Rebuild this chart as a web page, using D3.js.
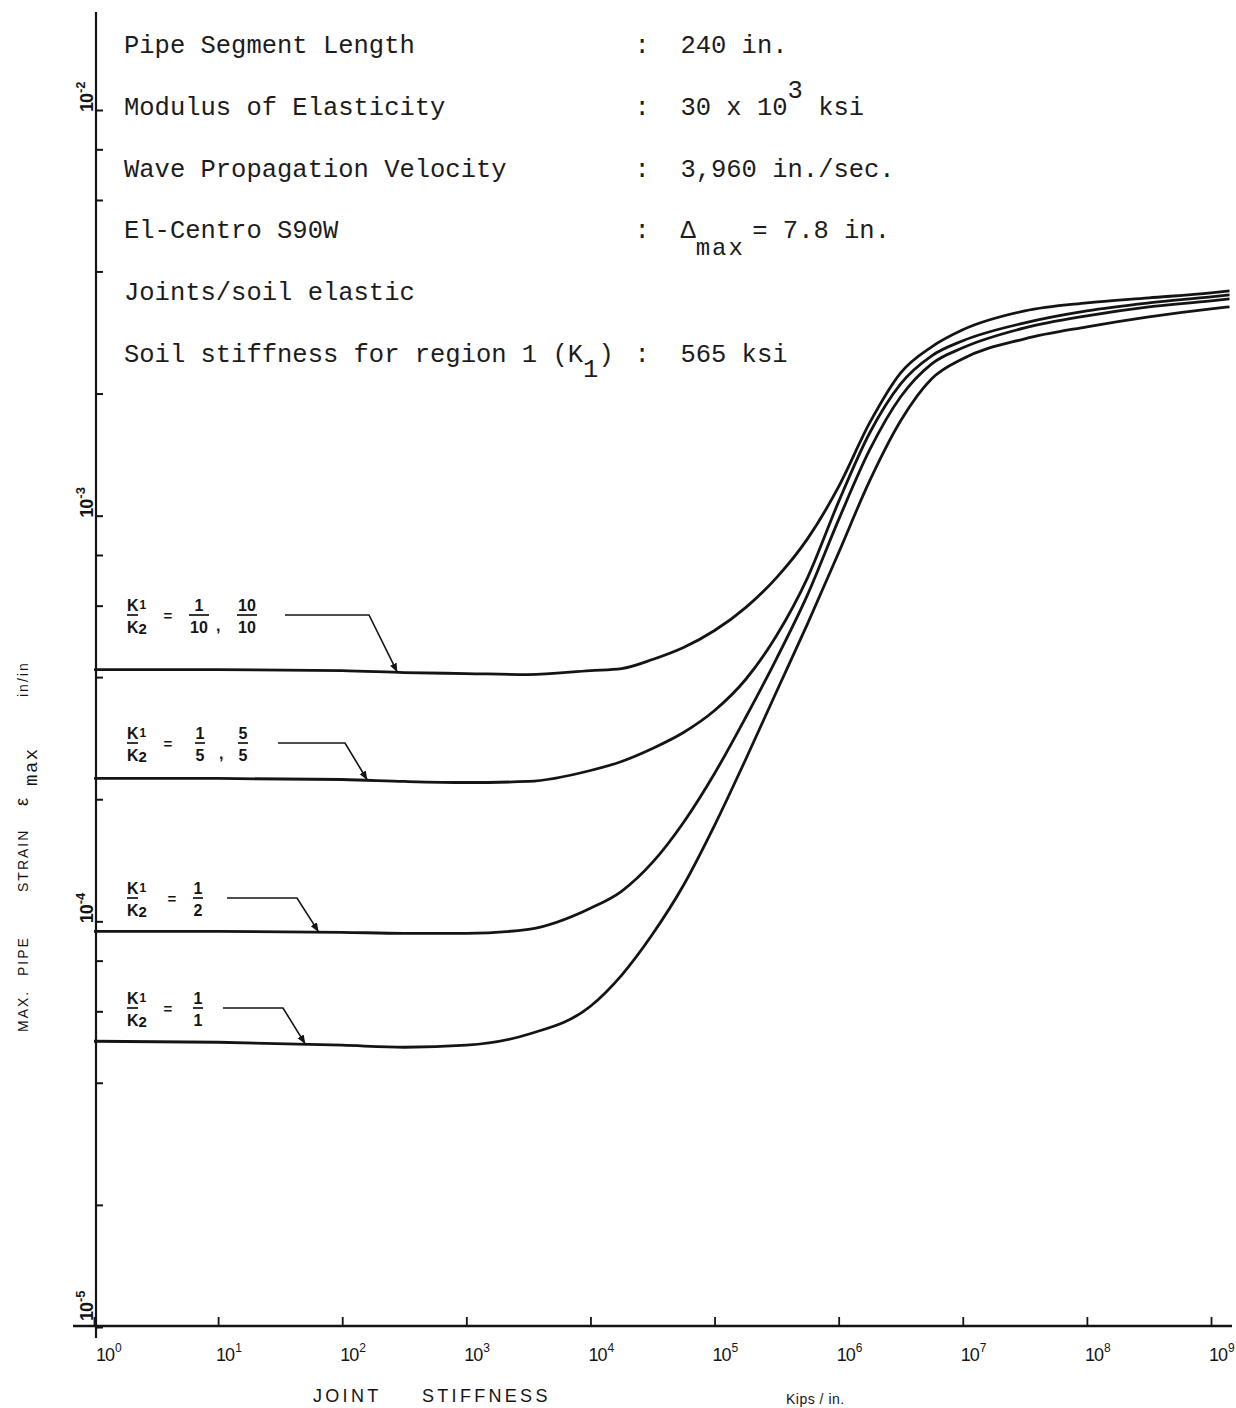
<!DOCTYPE html>
<html>
<head>
<meta charset="utf-8">
<script src="https://cdn.jsdelivr.net/npm/d3@7"></script>
<style>
  html, body { margin: 0; background: #fff; }
  text { white-space: pre; }
</style>
</head>
<body>
<svg id="chart" width="1236" height="1408"></svg>
<script>
// Joint stiffness, Kips/in.
const stiffness = [1, 10, 100, 316, 1000, 3160, 1e4, 1.78e4, 3.16e4, 5.62e4,
  1e5, 1.78e5, 3.16e5, 5.62e5, 1e6, 1.78e6, 3.16e6, 5.62e6, 1e7, 3.16e7,
  1e8, 3.16e8, 1e9, 1.41e9];

// Max. pipe strain (in/in) for each soil stiffness ratio K1/K2
const strainRatio1to10 = [4.175e-4, 4.175e-4, 4.151e-4, 4.104e-4, 4.081e-4, 4.058e-4, 4.151e-4, 4.199e-4,
  4.419e-4, 4.730e-4, 5.210e-4, 5.935e-4, 7.036e-4, 8.777e-4, 1.179e-3, 1.695e-3, 2.250e-3, 2.608e-3,
  2.872e-3, 3.197e-3, 3.346e-3, 3.443e-3, 3.542e-3, 3.582e-3];
const strainRatio1to5 = [2.250e-4, 2.250e-4, 2.237e-4, 2.212e-4, 2.199e-4, 2.212e-4, 2.354e-4, 2.478e-4,
  2.668e-4, 2.921e-4, 3.309e-4, 3.946e-4, 5.063e-4, 7.036e-4, 1.083e-3, 1.601e-3, 2.114e-3, 2.478e-3,
  2.698e-3, 2.988e-3, 3.198e-3, 3.346e-3, 3.463e-3, 3.502e-3];
const strainRatio1to2 = [9.449e-5, 9.449e-5, 9.396e-5, 9.342e-5, 9.342e-5, 9.556e-5, 1.077e-4, 1.186e-4,
  1.397e-4, 1.753e-4, 2.315e-4, 3.180e-4, 4.444e-4, 6.389e-4, 9.776e-4, 1.454e-3, 1.964e-3, 2.368e-3,
  2.593e-3, 2.904e-3, 3.109e-3, 3.272e-3, 3.385e-3, 3.424e-3];
const strainRatio1to1 = [5.063e-5, 5.034e-5, 4.950e-5, 4.894e-5, 4.950e-5, 5.268e-5, 6.176e-5, 7.362e-5,
  9.290e-5, 1.227e-4, 1.724e-4, 2.506e-4, 3.686e-4, 5.420e-4, 8.109e-4, 1.220e-3, 1.714e-3, 2.175e-3,
  2.436e-3, 2.729e-3, 2.921e-3, 3.091e-3, 3.235e-3, 3.272e-3];

const seriesList = [strainRatio1to10, strainRatio1to5, strainRatio1to2, strainRatio1to1];

// Curve labels: fraction pairs written after "K1/K2 ="
const ratioFractions = [
  [["1", "10"], ["10", "10"]],
  [["1", "5"], ["5", "5"]],
  [["1", "2"]],
  [["1", "1"]]
];
// Joint stiffness where each label's arrow meets its curve
const arrowTipStiffness = [276, 158, 64, 50];

// Axis ticks
const xTickExponents = [0, 1, 2, 3, 4, 5, 6, 7, 8, 9];
const yTickExponents = [-2, -3, -4, -5];
const yMinorMultipliers = [2, 4, 6, 8];

// Parameter block
const infoLeft = [
  [["Pipe Segment Length"]],
  [["Modulus of Elasticity"]],
  [["Wave Propagation Velocity"]],
  [["El-Centro S90W"]],
  [["Joints/soil elastic"]],
  [["Soil stiffness for region 1 (K"], ["1", "sub"], [")"]]
];
const infoRight = [
  [[":  240 in."]],
  [[":  30 x 10"], ["3", "sup"], [" ksi"]],
  [[":  3,960 in./sec."]],
  [[":  \u0394"], ["max", "sub"], [" = 7.8 in."]],
  [],
  [[":  565 ksi"]]
];

const xTitleParts = ["JOINT", "STIFFNESS"];
const xUnit = "Kips / in.";
const yTitleParts = ["MAX.", "PIPE", "STRAIN", "in/in"];

// ---------------------------------------------------------------
const svg = d3.select("#chart");
const ink = "#141414";
const sans = "'Liberation Sans', Arial, sans-serif";
const mono = "'Liberation Mono', 'Courier New', monospace";

const axisX = 96, axisY = 1326;
const x = d3.scaleLog().domain([1, 1e9]).range([94, 1211]);
const y = d3.scaleLog().domain([1e-5, 1e-2]).range([1327, 110]);

// axis lines
svg.append("line").attr("x1", axisX).attr("x2", axisX).attr("y1", 12).attr("y2", 1338)
  .attr("stroke", ink).attr("stroke-width", 2.2);
svg.append("line").attr("x1", 73).attr("x2", 1232).attr("y1", axisY).attr("y2", axisY)
  .attr("stroke", ink).attr("stroke-width", 2.4);

// y ticks (majors at decades, minors at 2,4,6,8)
const yTickVals = [];
yTickExponents.forEach(e => {
  yTickVals.push(Math.pow(10, e));
  if (e < -2) yMinorMultipliers.forEach(m => yTickVals.push(m * Math.pow(10, e)));
});
const yAxis = d3.axisRight(y).tickValues(yTickVals).tickSize(7).tickFormat("");
const gy = svg.append("g").attr("transform", `translate(${axisX},0)`).call(yAxis);
gy.select(".domain").remove();
gy.selectAll(".tick line").attr("stroke", ink).attr("stroke-width", 2);

// x ticks
const xAxis = d3.axisTop(x).tickValues(xTickExponents.map(e => Math.pow(10, e))).tickSize(9).tickFormat("");
const gx = svg.append("g").attr("transform", `translate(0,${axisY})`).call(xAxis);
gx.select(".domain").remove();
gx.selectAll(".tick line").attr("stroke", ink).attr("stroke-width", 1.8);

// x tick labels: 10 with superscript exponent
xTickExponents.forEach(e => {
  const px = e === 0 ? axisX : x(Math.pow(10, e)) - 2;
  const t = svg.append("text").attr("x", px).attr("y", 1361)
    .attr("font-family", sans).attr("font-size", 18).attr("fill", ink);
  t.append("tspan").text("10").attr("letter-spacing", -1);
  t.append("tspan").text(e).attr("font-size", 12).attr("dy", -9).attr("dx", 1);
});

// y tick labels, rotated; the lowest one sits above the x axis
yTickExponents.forEach(e => {
  const base = y(Math.pow(10, e)) + (e === -5 ? -6 : 2);
  const t = svg.append("text")
    .attr("transform", `translate(${axisX - 3},${base}) rotate(-90)`)
    .attr("font-family", sans).attr("font-size", 18).attr("font-weight", "bold").attr("fill", ink);
  t.append("tspan").text("10").attr("letter-spacing", -1);
  t.append("tspan").text(String(e)).attr("font-size", 13).attr("dy", -8).attr("dx", 1);
});

// curves
const line = d3.line()
  .x(d => x(d[0]))
  .y(d => y(d[1]))
  .curve(d3.curveMonotoneX);
seriesList.forEach(s => {
  svg.append("path")
    .datum(stiffness.map((k, i) => [k, s[i]]))
    .attr("d", line)
    .attr("fill", "none")
    .attr("stroke", ink)
    .attr("stroke-width", 2.8)
    .attr("stroke-linejoin", "round");
});

// strain on a curve at a given stiffness (log-log interpolation)
function strainAt(series, k) {
  const lk = Math.log10(k);
  for (let i = 0; i < stiffness.length - 1; i++) {
    const a = Math.log10(stiffness[i]), b = Math.log10(stiffness[i + 1]);
    if (lk >= a && lk <= b) {
      const t = (lk - a) / (b - a);
      return Math.pow(10, Math.log10(series[i]) * (1 - t) + Math.log10(series[i + 1]) * t);
    }
  }
  return series[0];
}

// arrow marker
svg.append("defs").append("marker")
  .attr("id", "arrow").attr("viewBox", "0 0 10 10").attr("refX", 9).attr("refY", 5)
  .attr("markerWidth", 9).attr("markerHeight", 9).attr("markerUnits", "userSpaceOnUse")
  .attr("orient", "auto")
  .append("path").attr("d", "M0,1 L10,5 L0,9 Z").attr("fill", ink);

// curve labels with leader arrows
const labelLayout = [
  { bar: 615, eq: 168, fx: [199, 247], comma: [216], lead: [285, 369] },
  { bar: 743, eq: 168, fx: [200, 243], comma: [219], lead: [278, 345] },
  { bar: 898, eq: 172, fx: [198], comma: [], lead: [227, 297] },
  { bar: 1008, eq: 168, fx: [198], comma: [], lead: [223, 283] }
];

const lab = svg.append("g").attr("font-family", sans).attr("font-weight", "bold").attr("fill", ink);
labelLayout.forEach((L, i) => {
  // K1 over K2
  const num = lab.append("text").attr("x", 127).attr("y", L.bar - 4).attr("font-size", 16);
  num.append("tspan").text("K");
  num.append("tspan").text("1").attr("font-size", 12).attr("dy", -2).attr("dx", 1);
  lab.append("line").attr("x1", 127).attr("x2", 138).attr("y1", L.bar).attr("y2", L.bar)
    .attr("stroke", ink).attr("stroke-width", 1.7);
  const den = lab.append("text").attr("x", 127).attr("y", L.bar + 18).attr("font-size", 16);
  den.append("tspan").text("K");
  den.append("tspan").text("2").attr("font-size", 15).attr("dy", 1);
  // equals sign
  lab.append("text").attr("x", L.eq).attr("y", L.bar + 6).attr("font-size", 15)
    .attr("text-anchor", "middle").text("=");
  // fractions
  ratioFractions[i].forEach((f, j) => {
    const cx = L.fx[j];
    const w = f[1].length > 1 ? 20 : 10;
    lab.append("text").attr("x", cx).attr("y", L.bar - 4).attr("font-size", 16)
      .attr("text-anchor", "middle").text(f[0]);
    lab.append("line").attr("x1", cx - w / 2).attr("x2", cx + w / 2).attr("y1", L.bar).attr("y2", L.bar)
      .attr("stroke", ink).attr("stroke-width", 1.7);
    lab.append("text").attr("x", cx).attr("y", L.bar + 18).attr("font-size", 16)
      .attr("text-anchor", "middle").text(f[1]);
  });
  L.comma.forEach(c => {
    lab.append("text").attr("x", c).attr("y", L.bar + 16).attr("font-size", 16).text(",");
  });
  // leader
  const tk = arrowTipStiffness[i];
  const tipX = x(tk), tipY = y(strainAt(seriesList[i], tk)) - 1;
  svg.append("path")
    .attr("d", `M${L.lead[0]},${L.bar} L${L.lead[1]},${L.bar} L${tipX},${tipY}`)
    .attr("fill", "none").attr("stroke", ink).attr("stroke-width", 1.6)
    .attr("marker-end", "url(#arrow)");
});

// parameter block
function richText(sel, segs) {
  let shift = 0;
  segs.forEach(s => {
    const kind = s[1] || "";
    const wide = kind === "sub" && s[0].length > 1;
    const target = kind === "sup" ? -17 : wide ? 17 : kind === "sub" ? 15 : 0;
    const ts = sel.append("tspan").text(s[0]).attr("dy", target - shift);
    if (wide) ts.attr("font-size", 24).attr("letter-spacing", 2);
    if (kind === "" && shift > 0 && s[0].startsWith(" =")) ts.attr("dx", -8);
    shift = target;
  });
}
const info = svg.append("g").attr("font-family", mono).attr("font-size", 25.5).attr("fill", "#1c1c1c");
infoLeft.forEach((segs, i) => {
  richText(info.append("text").attr("x", 124).attr("y", 53 + i * 61.8), segs);
});
infoRight.forEach((segs, i) => {
  if (segs.length) richText(info.append("text").attr("x", 634.5).attr("y", 53 + i * 61.8), segs);
});

// x axis title
const xt = svg.append("g").attr("font-family", sans).attr("font-size", 18).attr("fill", ink)
  .attr("letter-spacing", 3.3);
xt.append("text").attr("x", 313).attr("y", 1402).text(xTitleParts[0]);
xt.append("text").attr("x", 422).attr("y", 1402).text(xTitleParts[1]);
svg.append("text").attr("x", 786).attr("y", 1404).attr("font-family", sans)
  .attr("font-size", 14).attr("fill", ink).attr("letter-spacing", 0.5).text(xUnit);

// y axis title, rotated
const yt = svg.append("g").attr("font-family", sans).attr("font-size", 14).attr("fill", ink)
  .attr("letter-spacing", 2);
const yStarts = [1032, 976, 892, 697];
yTitleParts.forEach((p, i) => {
  yt.append("text").attr("transform", `translate(28,${yStarts[i]}) rotate(-90)`).text(p);
});
const eps = svg.append("text").attr("transform", "translate(28,806) rotate(-90)")
  .attr("font-family", sans).attr("font-size", 18).attr("fill", ink);
eps.append("tspan").text("\u03b5");
eps.append("tspan").text("max").attr("font-family", mono).attr("font-size", 19)
  .attr("letter-spacing", 1.5).attr("dy", 9).attr("dx", 12);
</script>
</body>
</html>
